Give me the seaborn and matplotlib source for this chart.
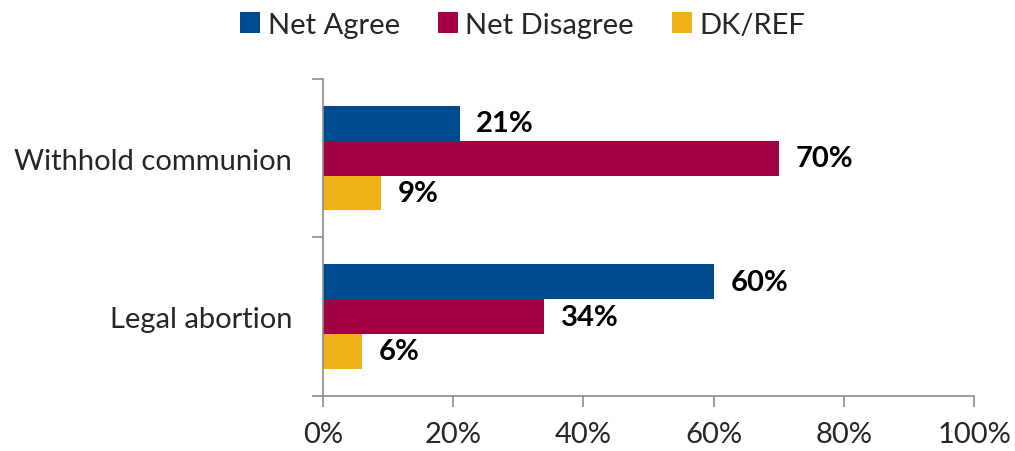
import pandas as pd
import numpy as np
import matplotlib
matplotlib.use("Agg")
import matplotlib.pyplot as plt
import seaborn as sns
from matplotlib.patches import Patch

# Datos
categories = ["Withhold communion", "Legal abortion"]
series = ["Net Agree", "Net Disagree", "DK/REF"]
net_agree = [21, 60]
net_disagree = [70, 34]
dk_ref = [9, 6]
colors = ["#004A8F", "#A30046", "#EFB118"]
x_ticks = [0, 20, 40, 60, 80, 100]

df = pd.DataFrame({
    "category": categories * 3,
    "series": [s for s in series for _ in categories],
    "value": net_agree + net_disagree + dk_ref,
})

sns.set_theme(style="white")
plt.rcParams["font.family"] = ["Lato", "DejaVu Sans"]

fig = plt.figure(figsize=(10.15, 4.52), dpi=100)
ax = fig.add_axes([0.318, 0.122, 0.642, 0.701])

sns.barplot(data=df, y="category", x="value", hue="series", order=categories,
            hue_order=series, palette=colors, orient="h", width=0.66,
            saturation=1, ax=ax, legend=False, edgecolor="none")

# etiquetas de valor
for cont in ax.containers:
    ax.bar_label(cont, labels=[f"{v:.0f}%" for v in cont.datavalues],
                 padding=12, fontsize=21, fontweight="bold", color="black")

ax.set_xlim(0, 100)
ax.set_ylim(1.5, -0.5)
ax.set_xticks(x_ticks)
ax.set_xticklabels([f"{t}%" for t in x_ticks], fontsize=21)
ax.set_yticks([0, 1])
ax.set_yticklabels(categories, fontsize=21)
ax.set_yticks([-0.5, 0.5, 1.5], minor=True)
ax.set_xlabel("")
ax.set_ylabel("")

axis_gray = "#8C8C8C"
for side in ["top", "right"]:
    ax.spines[side].set_visible(False)
for side in ["left", "bottom"]:
    ax.spines[side].set_color(axis_gray)
    ax.spines[side].set_linewidth(1.2)
ax.tick_params(axis="y", which="major", length=0, pad=22)
ax.tick_params(axis="y", which="minor", length=8, color=axis_gray, width=1.2, left=True)
ax.tick_params(axis="x", which="major", length=8, color=axis_gray, width=1.2,
               bottom=True, pad=10)

handles = [Patch(facecolor=c, edgecolor="none") for c in colors]
fig.legend(handles, series, loc="upper center", bbox_to_anchor=(0.515, 1.03),
           ncol=3, frameon=False, fontsize=21, handlelength=0.7, handleheight=0.7,
           handletextpad=0.25, columnspacing=1.3)

fig.savefig("out.png", dpi=100)
